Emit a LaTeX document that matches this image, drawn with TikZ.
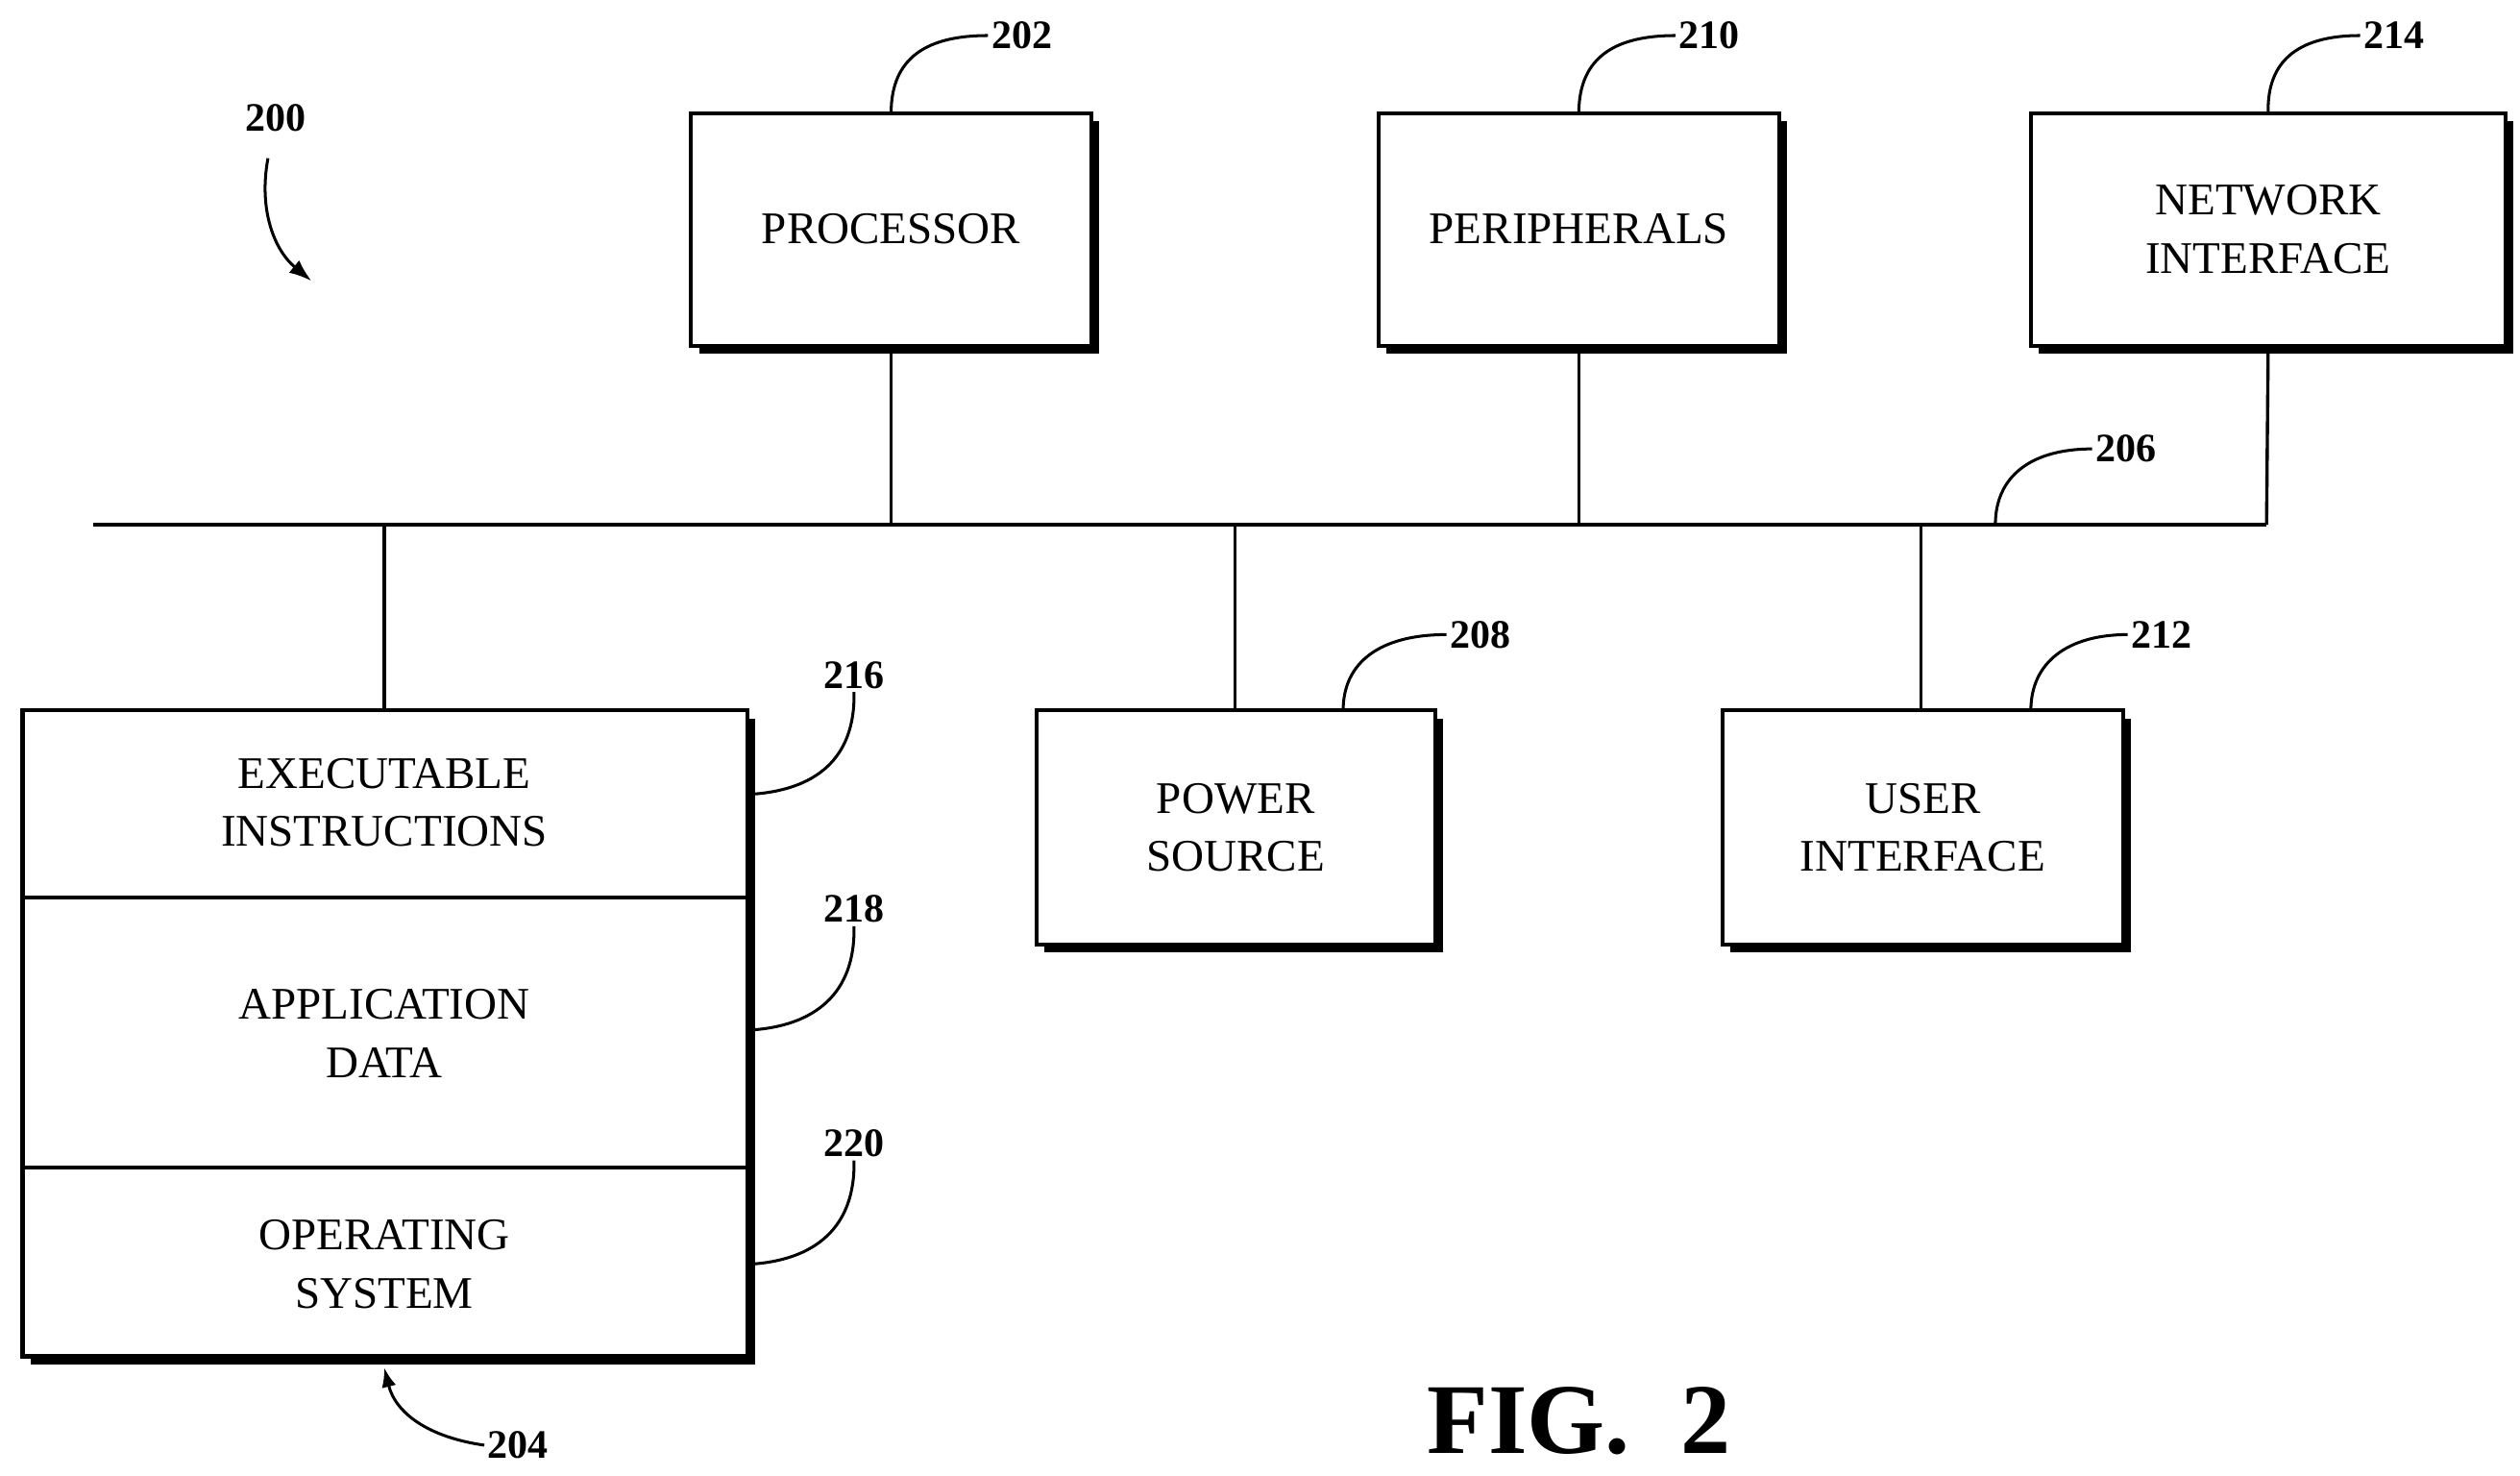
\documentclass[tikz,border=0pt]{standalone}
\usepackage{fontspec}
\setmainfont{Liberation Serif}
\usetikzlibrary{arrows.meta}
\begin{document}
\begin{tikzpicture}[x=1pt,y=-1pt,
  box/.style={draw,line width=2.5pt,fill=white,align=center,outer sep=0pt,inner sep=0pt,font=\fontsize{28}{36}\selectfont},
  lbl/.style={font=\bfseries\fontsize{25}{30}\selectfont,inner sep=2pt},
  lead/.style={line width=1.8pt},
  bus/.style={line width=2pt}]
\useasboundingbox (0,0) rectangle (1561,914);
\newcommand{\shbox}[5]{% name, x1,y1,x2,y2
  \fill (#2+5,#3+5) rectangle (#4+5,#5+5);
  \node[box,minimum width=#4-#2,minimum height=#5-#3,anchor=north west] (#1) at (#2,#3) {};}
\shbox{proc}{428}{70}{676}{214}
\shbox{peri}{854}{70}{1102}{214}
\shbox{net}{1258}{70}{1552}{214}
\shbox{pow}{642}{440}{889}{585}
\shbox{ui}{1067}{440}{1315}{585}
\shbox{mem}{14}{440}{463}{840}
\node[box,draw=none,fill=none] at (proc.center) {PROCESSOR};
\node[box,draw=none,fill=none] at (peri.center) {PERIPHERALS};
\node[box,draw=none,fill=none] at (net.center) {NETWORK\\INTERFACE};
\node[box,draw=none,fill=none] at (pow.center) {POWER\\SOURCE};
\node[box,draw=none,fill=none] at (ui.center) {USER\\INTERFACE};
\draw[line width=2.5pt] (14,556) -- (463,556) (14,723) -- (463,723);
\node[box,draw=none,fill=none] (exe) at (238,497) {EXECUTABLE\\INSTRUCTIONS};
\node[box,draw=none,fill=none] (app) at (238,640) {APPLICATION\\DATA};
\node[box,draw=none,fill=none] (os) at (238,783) {OPERATING\\SYSTEM};
% bus
\coordinate (bl) at (58,325); \coordinate (br) at (1404,325);
\draw[bus] (bl) -- (br);
\draw[bus] (proc.south) -- (552,325);
\draw[bus] (peri.south) -- (978,325);
\draw[bus] (net.south) -- (1404,325);
\draw[bus] (238,325) -- (238,440);
\draw[bus] (765,325) -- (765,440);
\draw[bus] (1190,325) -- (1190,440);
% labels
\node[lbl,anchor=west] (l202) at (612,22) {202};
\draw[lead] (proc.north) .. controls (552,35) and (575,22) .. (l202.west);
\node[lbl,anchor=west] (l210) at (1038,22) {210};
\draw[lead] (peri.north) .. controls (978,35) and (1001,22) .. (l210.west);
\node[lbl,anchor=west] (l214) at (1462,22) {214};
\draw[lead] (net.north) .. controls (1404,35) and (1427,22) .. (l214.west);
\node[lbl,anchor=west] (l206) at (1296,278) {206};
\draw[lead] (1236,325) .. controls (1236,295) and (1258,278) .. (l206.west);
\node[lbl,anchor=west] (l208) at (896,393) {208};
\draw[lead] (832,440) .. controls (832,410) and (855,393) .. (l208.west);
\node[lbl,anchor=west] (l212) at (1318,393) {212};
\draw[lead] (1258,440) .. controls (1258,410) and (1281,393) .. (l212.west);
\node[lbl] (l216) at (529,418) {216};
\draw[lead] (463,492) .. controls (505,490) and (530,470) .. (l216.south);
\node[lbl] (l218) at (529,563) {218};
\draw[lead] (463,638) .. controls (505,636) and (530,615) .. (l218.south);
\node[lbl] (l220) at (529,708) {220};
\draw[lead] (463,783) .. controls (505,781) and (530,760) .. (l220.south);
\node[lbl,anchor=west] (l204) at (300,895) {204};
\draw[lead,-{Latex[length=12pt,width=9pt]}] (l204.west) .. controls (265,890) and (245,875) .. (238,847);
\node[lbl] (l200) at (171,73) {200};
\coordinate (a200) at (193,174);
\draw[lead,-{Latex[length=14pt,width=10pt]}] (166,98) .. controls (160,130) and (170,155) .. (a200);
\node[font=\bfseries\fontsize{62}{70}\selectfont] (fig) at (978,880) {FIG.~~2};
\end{tikzpicture}
\end{document}
